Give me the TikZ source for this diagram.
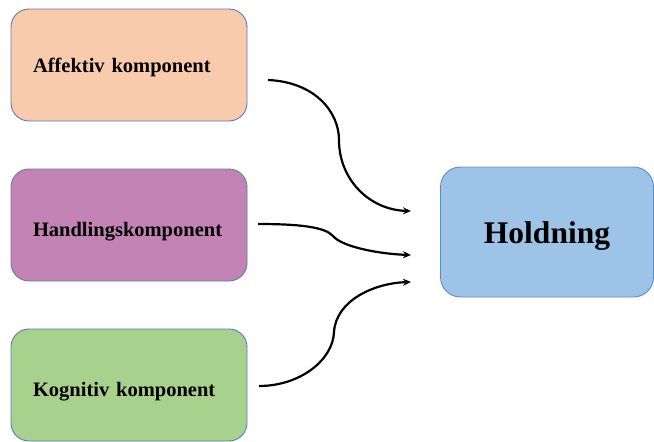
\documentclass[tikz,border=0pt]{standalone}
\usepackage{fontspec}
\setmainfont{Liberation Serif}
\usetikzlibrary{arrows.meta}
\definecolor{peach}{HTML}{F8CBAD}
\definecolor{plum}{HTML}{C383B4}
\definecolor{leaf}{HTML}{A9D18E}
\definecolor{sky}{HTML}{9DC3E6}
\definecolor{edgeblue}{HTML}{5A7BB5}
\definecolor{edgeblue2}{HTML}{5B8BD6}
\begin{document}
\begin{tikzpicture}[x=1pt,y=-1pt,
  compbox/.style={draw=edgeblue, line width=0.9pt, rounded corners=18pt,
    minimum width=236pt, minimum height=112pt, text width=192pt, align=left,
    inner sep=0pt, text depth=0pt, text height=22pt,
    font=\fontsize{20.5}{24}\selectfont\bfseries},
  goalbox/.style={draw=edgeblue2, line width=0.9pt, rounded corners=20pt,
    minimum width=213pt, minimum height=130pt, inner sep=0pt,
    text depth=0pt, text height=22pt,
    font=\fontsize{31.5}{36}\selectfont\bfseries},
  link/.style={line width=2.2pt, -{Stealth[length=8pt,width=7pt]}}]
\useasboundingbox (0,0) rectangle (654,442);
\node[compbox, fill=peach, text height=14pt] (aff) at (129,65) {Affektiv komponent};
\node[compbox, fill=plum] (hand) at (129,225) {Handlingskomponent};
\node[compbox, fill=leaf] (kog) at (129,385) {Kognitiv komponent};
\node[goalbox, fill=sky] (hold) at (547,232) {Holdning};
\coordinate (s1) at (268,80);
\coordinate (s2) at (258,224);
\coordinate (s3) at (259,386);
\coordinate (e1) at (411,211);
\coordinate (e2) at (411,255);
\coordinate (e3) at (411,282);
\draw[link] (s1) .. controls (315,82) and (339,112) .. (339,140)
  .. controls (339,180) and (370,210) .. (e1);
\draw[link] (s2) .. controls (300,224) and (325,227) .. (333,236)
  .. controls (342,247) and (380,254) .. (e2);
\draw[link] (s3) .. controls (300,386) and (333,360) .. (334,332)
  .. controls (336,300) and (375,283) .. (e3);
\end{tikzpicture}
\end{document}
